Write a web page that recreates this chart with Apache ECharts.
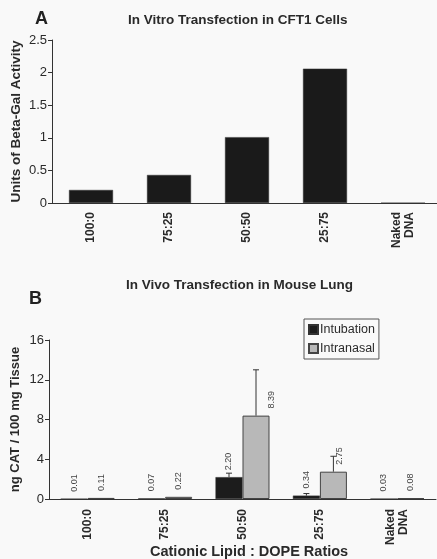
<!DOCTYPE html>
<html>
<head>
<meta charset="utf-8">
<script src="https://cdn.jsdelivr.net/npm/echarts@6/dist/echarts.min.js"></script>
<style>
  html, body { margin: 0; padding: 0; background: #f9f9f9; }
  #chart { width: 437px; height: 559px; }
</style>
</head>
<body>
<div id="chart"></div>
<script>
// ratios of cationic lipid : DOPE
const ratios = ['100:0', '75:25', '50:50', '25:75', 'Naked\nDNA'];

// panel A, in vitro beta-gal units
const vitroValues = [0.2, 0.43, 1.01, 2.06, 0];
const vitroTicks = [0, 0.5, 1, 1.5, 2, 2.5];

// panel B, in vivo ng CAT / 100 mg tissue
const intubation = [0.01, 0.07, 2.20, 0.34, 0.03];
const intranasal = [0.11, 0.22, 8.39, 2.75, 0.08];
// upper ends of the error bars (0 = none drawn)
const intubationErrTop = [0, 0, 2.6, 0.55, 0];
const intranasalErrTop = [0, 0, 13.0, 4.3, 0];
const vivoTicks = [0, 4, 8, 12, 16];

const font = 'Liberation Sans, Arial, sans-serif';
const ink = '#2a2a2a';

let chart = echarts.init(document.getElementById('chart'));

function errorSeries (name, tops, shift) {
    return {
        name: name + ' err',
        type: 'custom',
        xAxisIndex: 1,
        yAxisIndex: 1,
        z: 5,
        data: tops.map(function (t, i) { return [i, t]; }),
        renderItem: function (params, api) {
            let top = api.value(1);
            if (!top) return null;
            let i = api.value(0);
            let p0 = api.coord([i, (shift < 0 ? intubation : intranasal)[i]]);
            let p1 = api.coord([i, top]);
            let x = p0[0] + shift;
            return {
                type: 'group',
                children: [
                    { type: 'line', shape: { x1: x, y1: p0[1], x2: x, y2: p1[1] }, style: { stroke: '#333', lineWidth: 1 } },
                    { type: 'line', shape: { x1: x - 3, y1: p1[1], x2: x + 3, y2: p1[1] }, style: { stroke: '#333', lineWidth: 1 } }
                ]
            };
        }
    };
}

const vivoLabel = {
    show: true,
    position: 'top',
    distance: 7,
    rotate: 90,
    align: 'left',
    verticalAlign: 'middle',
    fontSize: 9,
    fontFamily: font,
    color: '#444',
    formatter: function (p) { return p.value.toFixed(2); }
};

// nudges to keep labels clear of the error bars
const intranasalLabelShift = [0, 0, 16, 6, 0];

chart.setOption({
    backgroundColor: '#f9f9f9',
    animation: false,
    textStyle: { fontFamily: font, color: ink },
    title: [
        { text: 'A', left: 35, top: 10, padding: 0, textStyle: { fontSize: 18, fontWeight: 'bold', color: '#222' } },
        { text: 'In Vitro Transfection in CFT1 Cells', left: 128, top: 13, padding: 0, textStyle: { fontSize: 13.5, fontWeight: 'bold', color: ink } },
        { text: 'B', left: 29, top: 290, padding: 0, textStyle: { fontSize: 18, fontWeight: 'bold', color: '#222' } },
        { text: 'In Vivo Transfection in Mouse Lung', left: 126, top: 278, padding: 0, textStyle: { fontSize: 13.5, fontWeight: 'bold', color: ink } },
        { text: 'Cationic Lipid : DOPE Ratios', left: 150, top: 544, padding: 0, textStyle: { fontSize: 14.5, fontWeight: 'bold', color: ink } }
    ],
    legend: {
        data: ['Intubation', 'Intranasal'],
        orient: 'vertical',
        left: 304,
        top: 319,
        padding: [4, 4, 4, 4],
        icon: 'rect',
        itemWidth: 9,
        itemHeight: 9,
        itemGap: 6,
        borderColor: '#555',
        borderWidth: 1,
        textStyle: { fontSize: 12.5, color: ink, padding: [0, 0, 0, -3] }
    },
    grid: [
        { left: 52, top: 40, width: 390, height: 163, outerBoundsMode: 'none' },
        { left: 49, top: 340, width: 387, height: 159, outerBoundsMode: 'none' }
    ],
    xAxis: [
        {
            gridIndex: 0,
            type: 'category',
            data: ratios,
            axisLine: { lineStyle: { color: '#333' } },
            axisTick: { inside: false, length: 5, lineStyle: { color: '#333' } },
            axisLabel: { rotate: 90, margin: 9, fontSize: 12, fontWeight: 'bold', color: ink, lineHeight: 13 }
        },
        {
            gridIndex: 1,
            type: 'category',
            data: ratios,
            axisLine: { lineStyle: { color: '#333' } },
            axisTick: { length: 5, lineStyle: { color: '#333' } },
            axisLabel: { rotate: 90, margin: 10, fontSize: 12, fontWeight: 'bold', color: ink, lineHeight: 13 }
        }
    ],
    yAxis: [
        {
            gridIndex: 0,
            type: 'value',
            min: vitroTicks[0],
            max: vitroTicks[vitroTicks.length - 1],
            interval: 0.5,
            name: 'Units of Beta-Gal Activity',
            nameLocation: 'middle',
            nameGap: 29,
            nameMoveOverlap: false,
            nameTextStyle: { fontSize: 13.5, fontWeight: 'bold', color: ink },
            axisLine: { show: true, lineStyle: { color: '#333' } },
            axisTick: { show: true, length: 4, lineStyle: { color: '#333' } },
            splitLine: { show: false },
            axisLabel: { fontSize: 13, color: ink, margin: 5 }
        },
        {
            gridIndex: 1,
            type: 'value',
            min: vivoTicks[0],
            max: vivoTicks[vivoTicks.length - 1],
            interval: 4,
            name: 'ng CAT / 100 mg Tissue',
            nameLocation: 'middle',
            nameGap: 27,
            nameMoveOverlap: false,
            nameTextStyle: { fontSize: 13, fontWeight: 'bold', color: ink },
            axisLine: { show: true, lineStyle: { color: '#333' } },
            axisTick: { show: true, length: 4, lineStyle: { color: '#333' } },
            splitLine: { show: false },
            axisLabel: { fontSize: 13, color: ink, margin: 5 }
        }
    ],
    series: [
        {
            name: 'vitro',
            type: 'bar',
            xAxisIndex: 0,
            yAxisIndex: 0,
            barWidth: 44,
            data: vitroValues,
            itemStyle: { color: '#1a1a1a', borderColor: '#333', borderWidth: 0.5 }
        },
        {
            name: 'Intubation',
            type: 'bar',
            xAxisIndex: 1,
            yAxisIndex: 1,
            barWidth: 27,
            barGap: '0%',
            data: intubation,
            itemStyle: { color: '#1c1c1c', borderColor: '#333', borderWidth: 0.5 },
            label: vivoLabel
        },
        {
            name: 'Intranasal',
            type: 'bar',
            xAxisIndex: 1,
            yAxisIndex: 1,
            barWidth: 27,
            barGap: '0%',
            data: intranasal.map(function (v, i) {
                return intranasalLabelShift[i] ? { value: v, label: { offset: [0, intranasalLabelShift[i]] } } : v;
            }),
            itemStyle: { color: '#b8b8b8', borderColor: '#444', borderWidth: 1 },
            label: vivoLabel
        },
        errorSeries('Intubation', intubationErrTop, -13.5),
        errorSeries('Intranasal', intranasalErrTop, 13.5)
    ]
});
</script>
</body>
</html>
